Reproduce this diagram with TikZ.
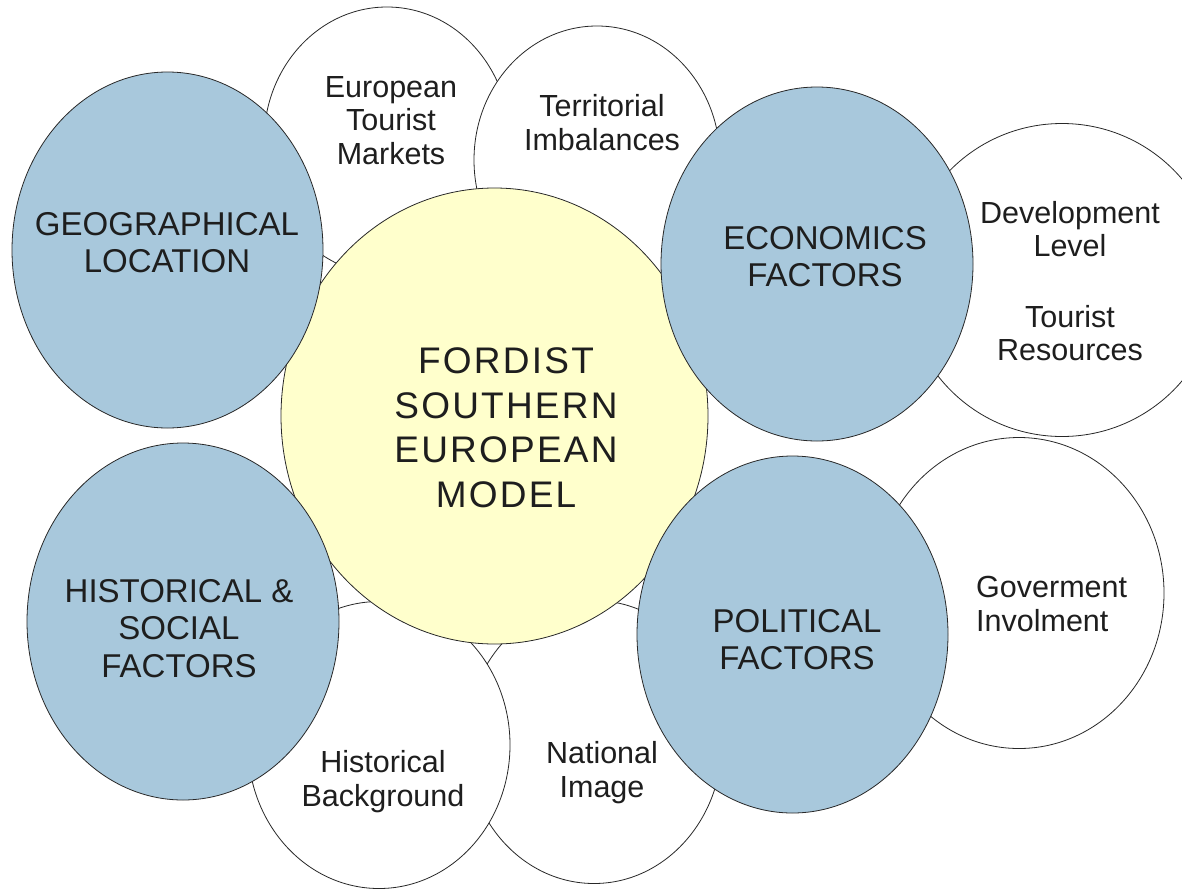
\documentclass[tikz,border=0pt]{standalone}
\usepackage{fontspec}
\setmainfont{Liberation Sans}
\usetikzlibrary{shapes.geometric}
\definecolor{bubbleblue}{RGB}{168,200,220}
\definecolor{bubbleyellow}{RGB}{255,255,204}
\definecolor{inkline}{RGB}{40,40,40}
\definecolor{inktext}{RGB}{30,30,30}
\begin{document}
\begin{tikzpicture}[x=1pt,y=-1pt,
  bubble/.style={ellipse, draw=inkline, line width=0.8pt, inner sep=0pt, outer sep=0pt},
  whitebub/.style={bubble, fill=white},
  bluebub/.style={bubble, fill=bubbleblue},
  yellowbub/.style={bubble, fill=bubbleyellow},
  txt/.style={anchor=base, align=center, text=inktext, inner sep=0pt},
  smalltext/.style={txt, font=\fontsize{30.5}{33.5}\selectfont},
  bigtext/.style={txt, font=\fontsize{33}{37}\selectfont},
  centertext/.style={txt, font=\fontsize{37}{44.5}\selectfont\addfontfeature{LetterSpace=6}},
]
\useasboundingbox (0,0) rectangle (1182,889);
\clip (0,0) rectangle (1182,889);
\fill[white] (0,0) rectangle (1182,889);

% white bubbles
\node[whitebub, minimum width=246pt, minimum height=268pt] (etm) at (387,141) {};
\node[whitebub, minimum width=246pt, minimum height=268pt] (ter) at (597,160) {};
\node[whitebub, minimum width=314pt, minimum height=313pt] (dev) at (1062,280) {};
\node[whitebub, minimum width=290pt, minimum height=311pt] (gov) at (1019,593) {};
\node[whitebub, minimum width=256pt, minimum height=283pt] (nat) at (594,742) {};
\node[whitebub, minimum width=262pt, minimum height=287pt] (hbg) at (379,745) {};

% centre
\node[yellowbub, minimum width=427pt, minimum height=456pt] (ctr) at (494.5,416) {};

% blue bubbles
\node[bluebub, minimum width=311pt, minimum height=356pt] (geo) at (167.5,250) {};
\node[bluebub, minimum width=312pt, minimum height=354pt] (eco) at (817,264) {};
\node[bluebub, minimum width=312pt, minimum height=357pt] (hsf) at (183,621.5) {};
\node[bluebub, minimum width=311pt, minimum height=357pt] (pol) at (792.5,634.5) {};

% texts (anchor = baseline of the last line)
\node[smalltext] (etmtext) at (391,164) {European\\Tourist\\Markets};
\node[smalltext] (tertext) at (602,150) {Territorial\\Imbalances};
\node[smalltext, font=\fontsize{30.5}{33}\selectfont] (devtext) at (1070,360) {Development\\Level\\[38pt]Tourist\\Resources};
\node[smalltext, anchor=base west, align=left] (govtext) at (976,631) {Goverment\\Involment};
\node[smalltext] (hbgtext) at (383,806) {Historical\\Background};
\node[smalltext] (nattext) at (602,797) {National\\Image};

\node[bigtext] (geotext) at (167,272) {GEOGRAPHICAL\\LOCATION};
\node[bigtext] (ecotext) at (825,286) {ECONOMICS\\FACTORS};
\node[bigtext, font=\fontsize{33}{37.5}\selectfont] (hsftext) at (179,677) {HISTORICAL \&\\SOCIAL\\FACTORS};
\node[bigtext] (poltext) at (797,669) {POLITICAL\\FACTORS};

\node[centertext] (ctrtext) at (506,507) {FORDIST\\SOUTHERN\\EUROPEAN\\MODEL};
\end{tikzpicture}
\end{document}
